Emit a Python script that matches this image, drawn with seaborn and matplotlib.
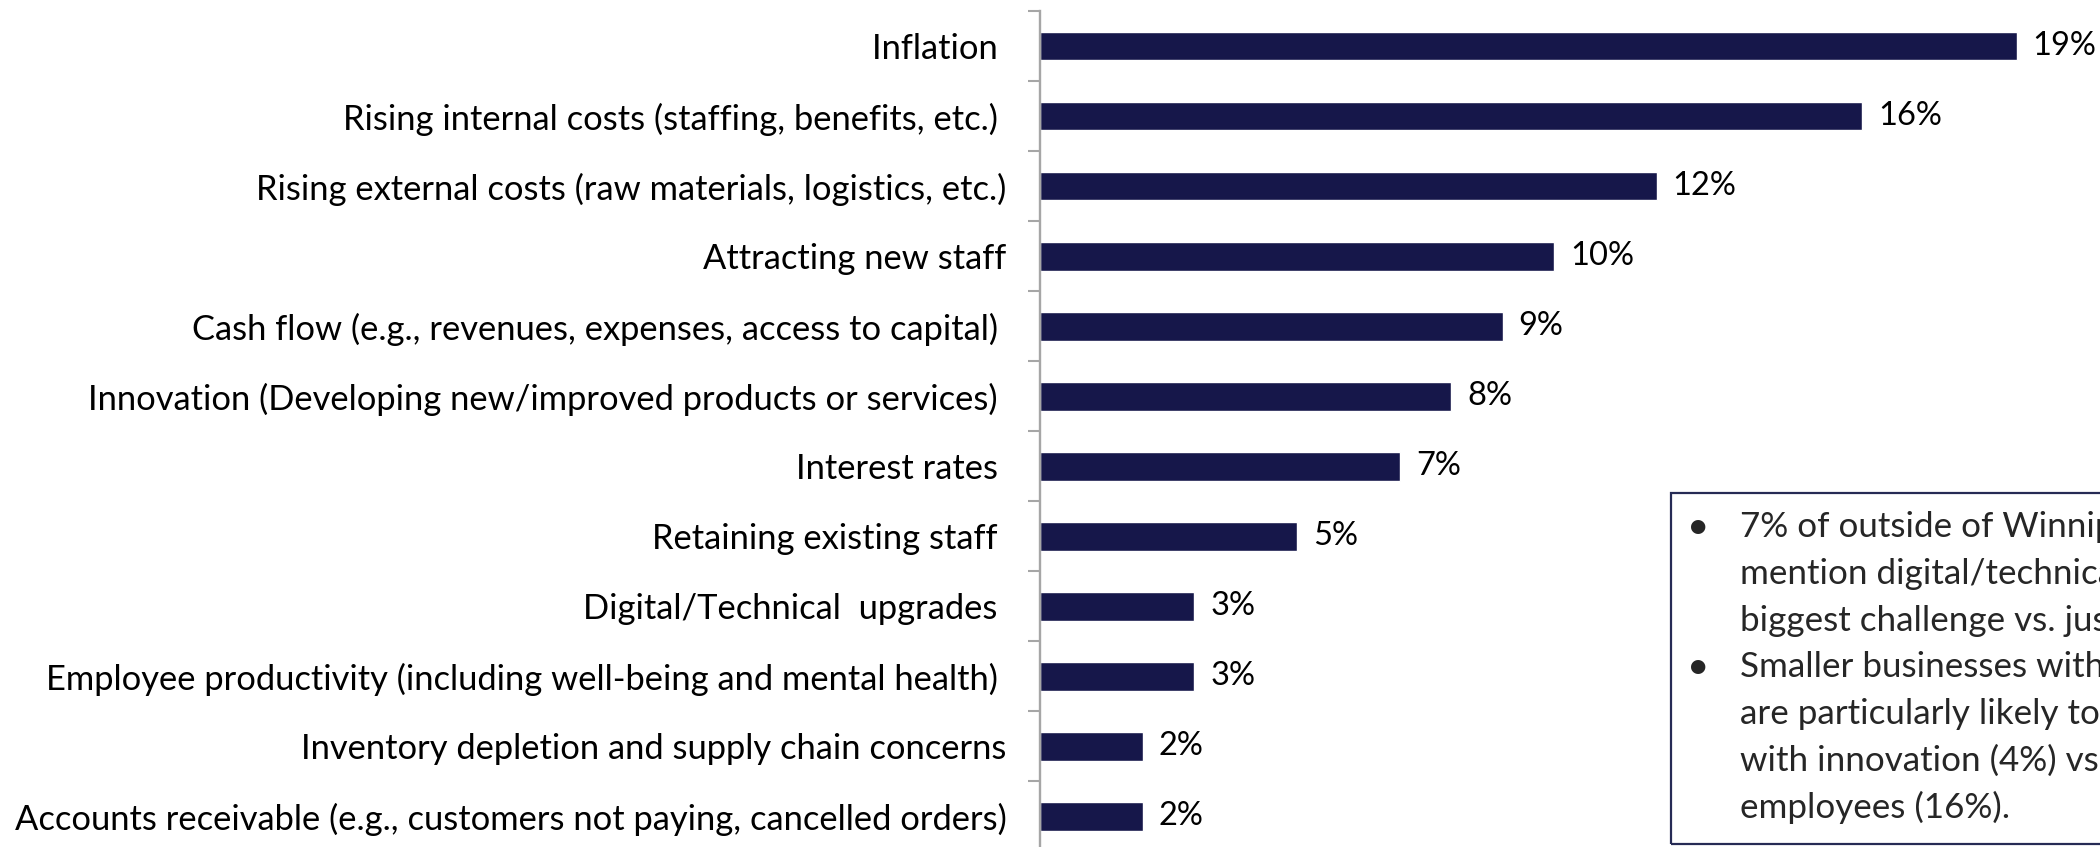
import numpy as np
import pandas as pd
import matplotlib
matplotlib.use("Agg")
import matplotlib.pyplot as plt
from matplotlib.patches import Rectangle
import seaborn as sns

# Survey: biggest challenge facing the business (% of respondents)
categories = [
    "Inflation ",
    "Rising internal costs (staffing, benefits, etc.) ",
    "Rising external costs (raw materials, logistics, etc.)",
    "Attracting new staff",
    "Cash flow (e.g., revenues, expenses, access to capital) ",
    "Innovation (Developing new/improved products or services) ",
    "Interest rates ",
    "Retaining existing staff ",
    "Digital/Technical  upgrades ",
    "Employee productivity (including well-being and mental health) ",
    "Inventory depletion and supply chain concerns",
    "Accounts receivable (e.g., customers not paying, cancelled orders)",
]
values = [19, 16, 12, 10, 9, 8, 7, 5, 3, 3, 2, 2]

callout_lines = [
    ("•", "7% of outside of Winnipeg businesses"),
    ("", "mention digital/technical upgrades as their"),
    ("", "biggest challenge vs. just 1% in Winnipeg."),
    ("•", "Smaller businesses with fewer employees"),
    ("", "are particularly likely to be challenged"),
    ("", "with innovation (4%) vs. those with more"),
    ("", "employees (16%)."),
]

BAR_COLOR = "#16174A"
AXIS_GRAY = "#A6A6A6"
BOX_EDGE = "#262B55"

sns.set_style("white")
plt.rcParams["font.family"] = ["Lato", "DejaVu Sans"]

W, H = 2100, 847
fig = plt.figure(figsize=(W / 100, H / 100), dpi=100)

# axes placed in pixel terms: y-axis at x=1040, category band from y=11 to y=851
ax_left, ax_right = 1040, 2068
ax_top, ax_bottom = 11, 851.5
ax = fig.add_axes([ax_left / W, 1 - ax_bottom / H,
                   (ax_right - ax_left) / W, (ax_bottom - ax_top) / H])

df = pd.DataFrame({"challenge": categories, "pct": values})
sns.barplot(data=df, x="pct", y="challenge", orient="h", color=BAR_COLOR,
            width=0.41, saturation=1, ax=ax)

ax.set_xlim(0, 20)
ax.set_ylim(len(categories) - 0.5, -0.5)
ax.set_xlabel("")
ax.set_ylabel("")
ax.set_xticks([])

for side in ["top", "right", "bottom"]:
    ax.spines[side].set_visible(False)
ax.spines["left"].set_color(AXIS_GRAY)
ax.spines["left"].set_linewidth(1.7)

# category labels without tick marks; tick marks sit between the categories
ax.tick_params(axis="y", which="major", length=0, pad=24, labelsize=24.8,
               labelcolor="black")
for lbl in ax.get_yticklabels():
    lbl.set_verticalalignment("center_baseline")
ax.set_yticks(np.arange(-0.5, len(categories), 1.0), minor=True)
ax.tick_params(axis="y", which="minor", length=8.6, width=1.5,
               color=AXIS_GRAY, left=True)

ax.bar_label(ax.containers[0], labels=[f"{v}%" for v in values],
             padding=11.5, fontsize=23.5, color="black")

# callout box running off the right edge
box_left, box_top, box_bottom = 1671, 493, 844
fig.patches.append(Rectangle((box_left / W, 1 - box_bottom / H),
                             (W + 100 - box_left) / W,
                             (box_bottom - box_top) / H,
                             transform=fig.transFigure, fill=False,
                             edgecolor=BOX_EDGE, linewidth=1.6))

first_line_y, line_step = 527, 46.8
for i, (bullet, line) in enumerate(callout_lines):
    y = 1 - (first_line_y + i * line_step) / H
    if bullet:
        fig.text(1698 / W, y, bullet, fontsize=28, va="center", ha="center")
    fig.text(1740 / W, y, line, fontsize=25.2, va="center", ha="left")

fig.savefig("out.png", dpi=100, facecolor="white")
